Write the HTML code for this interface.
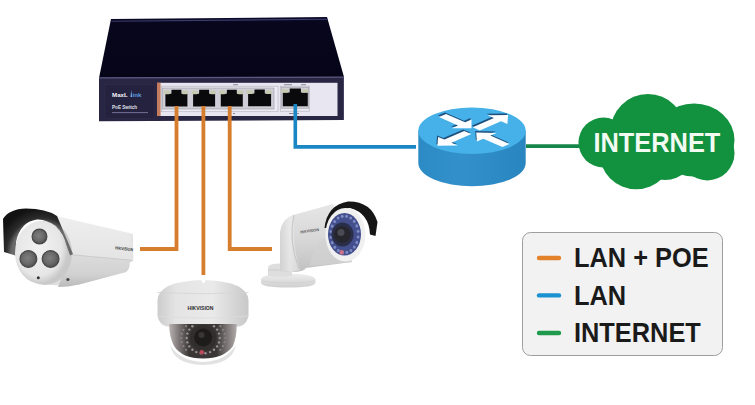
<!DOCTYPE html>
<html><head><meta charset="utf-8">
<style>
html,body{margin:0;padding:0;background:#fff;}
body{width:755px;height:405px;overflow:hidden;position:relative;font-family:"Liberation Sans",sans-serif;}
svg{position:absolute;left:0;top:0;}
</style></head>
<body>
<svg width="755" height="405" viewBox="0 0 755 405">
<defs>
  <linearGradient id="swTop" x1="0" y1="0" x2="0" y2="1">
    <stop offset="0" stop-color="#0c0b2a"/>
    <stop offset="0.1" stop-color="#07061c"/>
    <stop offset="1" stop-color="#060518"/>
  </linearGradient>
  <linearGradient id="swFront" x1="0" y1="0" x2="0" y2="1">
    <stop offset="0" stop-color="#23223f"/>
    <stop offset="1" stop-color="#1a1933"/>
  </linearGradient>
  <linearGradient id="rtSide" x1="0" y1="0" x2="1" y2="0">
    <stop offset="0" stop-color="#2c8ac4"/>
    <stop offset="0.4" stop-color="#3390ca"/>
    <stop offset="1" stop-color="#2985c0"/>
  </linearGradient>
</defs>

<!-- ===== SWITCH ===== -->
<polygon points="111,19 327,17 344,77 99,78" fill="url(#swTop)"/>
<line x1="111.5" y1="21.2" x2="327.5" y2="19.2" stroke="#3e3c6c" stroke-width="1.1"/>
<polygon points="99,77.5 344,77 344,120 99,121.2" fill="#282642"/>
<line x1="99" y1="77.8" x2="344" y2="77.2" stroke="#5c5a82" stroke-width="1.2"/>
<line x1="343.5" y1="78" x2="343.5" y2="120" stroke="#4a4868" stroke-width="0.8"/>
<rect x="105" y="84.5" width="49" height="34" fill="#24223e" stroke="#302e4c" stroke-width="0.6"/>
<!-- white panel -->
<rect x="157" y="82.8" width="180.5" height="33.2" fill="#e8e6f1"/>
<rect x="157" y="82.8" width="3.6" height="33.2" fill="#c47c5c"/>
<!-- port group frame -->
<rect x="161.5" y="86.2" width="116.5" height="25.5" fill="#ecebf3" stroke="#b8b7c2" stroke-width="0.7"/>
<rect x="162.5" y="88" width="111.5" height="21" fill="#cfced6" stroke="#9c9ba6" stroke-width="0.6"/>
<rect x="280.3" y="86.2" width="29.2" height="25" fill="#ecebf3" stroke="#b8b7c2" stroke-width="0.7"/>
<rect x="281.2" y="87.2" width="27.5" height="21" fill="#cfced6" stroke="#9c9ba6" stroke-width="0.6"/>
<!-- ports -->
<path d="M171.5,89.8 h9.9 v4 h6.0 v12.8 h-22.0 v-12.8 h6.0 z" fill="#0a0a0c"/>
<rect x="163.6" y="90.6" width="6.6" height="3.6" rx="1.5" fill="#c5cab0"/>
<rect x="182.0" y="90.6" width="6.2" height="3.6" rx="1.5" fill="#c5cab0"/>
<path d="M199.2,89.8 h9.9 v4 h6.0 v12.8 h-22.0 v-12.8 h6.0 z" fill="#0a0a0c"/>
<rect x="191.4" y="90.6" width="6.6" height="3.6" rx="1.5" fill="#c5cab0"/>
<rect x="209.8" y="90.6" width="6.2" height="3.6" rx="1.5" fill="#c5cab0"/>
<path d="M226.9,89.8 h9.9 v4 h6.0 v12.8 h-22.0 v-12.8 h6.0 z" fill="#0a0a0c"/>
<rect x="219.0" y="90.6" width="6.6" height="3.6" rx="1.5" fill="#c5cab0"/>
<rect x="237.4" y="90.6" width="6.2" height="3.6" rx="1.5" fill="#c5cab0"/>
<path d="M254.5,89.5 h10.3 v4 h6.3 v12.8 h-23.0 v-12.8 h6.3 z" fill="#0a0a0c"/>
<rect x="246.4" y="90.3" width="6.9" height="3.6" rx="1.5" fill="#c5cab0"/>
<rect x="265.5" y="90.3" width="6.4" height="3.6" rx="1.5" fill="#c5cab0"/>
<path d="M289.7,88.4 h11.2 v4 h6.9 v13.8 h-25.0 v-13.8 h6.9 z" fill="#0a0a0c"/>
<rect x="281.0" y="89.2" width="7.5" height="3.6" rx="1.5" fill="#c5cab0"/>
<rect x="301.5" y="89.2" width="7.0" height="3.6" rx="1.5" fill="#c5cab0"/>

<!-- labels -->
<g fill="#8a8898">
<rect x="233" y="84.2" width="5" height="1" />
<rect x="284" y="84.2" width="8" height="1"/>
<rect x="301" y="84.2" width="5" height="1"/>
<rect x="289" y="113" width="10" height="1"/>
<rect x="233" y="113" width="2" height="1"/>
</g>
<!-- logo -->
<text x="0" y="97.2" font-family="Liberation Sans" font-size="6.2" font-weight="bold" fill="#f4f4fa" transform="translate(112,0) scale(1.0,1)">MaxL</text>
<text x="0" y="97.2" font-family="Liberation Sans" font-size="6.2" font-weight="bold" fill="#5a9ee0" transform="translate(132.5,0) scale(1.0,1)">ink</text>
<path d="M130.5,97 L131.3,90 L132.1,97 Z" fill="#7ab8f0"/>
<text x="0" y="108.6" font-family="Liberation Sans" font-size="5.4" font-weight="bold" fill="#e0e0ec" transform="translate(112,0) scale(0.86,1)">PoE Switch</text>
<rect x="112" y="112.2" width="36" height="0.9" fill="#7a78a0"/>

<!-- ===== CABLES ===== -->
<g fill="none" stroke-width="3.8" stroke-linejoin="miter">
  <polyline points="176.5,106 176.5,249 140,249" stroke="#d67d2e"/>
  <polyline points="203.4,106 203.4,275" stroke="#d67d2e"/>
  <polyline points="229.7,106 229.7,249 272,249" stroke="#d67d2e"/>
</g>
<polyline points="295.3,104 295.3,146.9 416,146.9" fill="none" stroke="#1a86c4" stroke-width="3.6"/>
<line x1="526" y1="146.1" x2="581" y2="146.1" stroke="#17864a" stroke-width="3.8"/>


<!-- ===== CAMERA 1 (bullet left) ===== -->
<defs>
  <linearGradient id="c1body" x1="0" y1="0" x2="0" y2="1">
    <stop offset="0" stop-color="#f2f2f2"/>
    <stop offset="0.55" stop-color="#e4e4e4"/>
    <stop offset="1" stop-color="#c9c9c9"/>
  </linearGradient>
  <radialGradient id="c1face" cx="0.45" cy="0.42" r="0.6">
    <stop offset="0" stop-color="#f2f2f2"/>
    <stop offset="0.75" stop-color="#e6e6e6"/>
    <stop offset="1" stop-color="#c4c4c4"/>
  </radialGradient>
  <radialGradient id="lens" cx="0.5" cy="0.5" r="0.5">
    <stop offset="0" stop-color="#7a7a7a"/>
    <stop offset="0.7" stop-color="#5a5a5a"/>
    <stop offset="1" stop-color="#3c3c3c"/>
  </radialGradient>
  <linearGradient id="c3body" x1="0" y1="0" x2="0" y2="1">
    <stop offset="0" stop-color="#e6e6e6"/>
    <stop offset="0.5" stop-color="#d8d8d8"/>
    <stop offset="1" stop-color="#c2c2c2"/>
  </linearGradient>
  <radialGradient id="domeDark" cx="0.5" cy="0.3" r="0.7">
    <stop offset="0" stop-color="#3a3a3a"/>
    <stop offset="0.6" stop-color="#4a4444"/>
    <stop offset="1" stop-color="#8a8686"/>
  </radialGradient>
</defs>
<!-- body -->
<defs>
  <linearGradient id="c1up" x1="0" y1="0" x2="0" y2="1">
    <stop offset="0" stop-color="#eeeeee"/>
    <stop offset="1" stop-color="#dedede"/>
  </linearGradient>
  <linearGradient id="c1low" x1="0" y1="0" x2="0" y2="1">
    <stop offset="0" stop-color="#dcdcdc"/>
    <stop offset="0.6" stop-color="#d2d2d2"/>
    <stop offset="1" stop-color="#bababa"/>
  </linearGradient>
  <radialGradient id="hoodG" gradientUnits="userSpaceOnUse" cx="42" cy="254" r="46">
    <stop offset="0" stop-color="#777"/>
    <stop offset="0.66" stop-color="#6a6a6a"/>
    <stop offset="0.78" stop-color="#2c2c2c"/>
    <stop offset="1" stop-color="#121212"/>
  </radialGradient>
  <radialGradient id="lens1" cx="0.45" cy="0.45" r="0.55">
    <stop offset="0" stop-color="#7e7e7e"/>
    <stop offset="0.6" stop-color="#6a6a6a"/>
    <stop offset="1" stop-color="#505050"/>
  </radialGradient>
</defs>
<path d="M56,216 L130.5,233.2 L133,234.8 L133.2,260.5 L129.5,262.5 Q130,269 126,272 L79,284.5 Q66,287 44,284 Z" fill="url(#c1up)"/>
<path d="M71.5,254.5 L133.2,260.5 L129.5,262.5 Q130,269 126,272 L79,284.5 Q68,287 58,287 Z" fill="url(#c1low)"/>
<line x1="72" y1="254.8" x2="133" y2="260.4" stroke="#c8c8c8" stroke-width="0.9"/>
<path d="M130.5,233.2 L133,234.8 L133.2,260.5 L130.8,260.2 Z" fill="#e4e4e4"/>
<!-- face rim (disc thickness) -->
<ellipse cx="45" cy="253" rx="27" ry="32" fill="#c9c9c9"/>
<!-- hood -->
<path d="M3,219 Q9,209 26,208.5 Q46,208.5 57,216 L73,254 L70,255.5 Q64,236 56,226 Q46,219 37,219.5 Q20,222 16,242 L17,256 L4,252 Z" fill="url(#hoodG)"/>
<!-- face -->
<ellipse cx="41" cy="252.5" rx="26" ry="31.5" fill="url(#c1face)"/>
<circle cx="39.5" cy="236.5" r="7.4" fill="url(#lens1)" stroke="#484848" stroke-width="1.2"/>
<circle cx="28.4" cy="259" r="8.4" fill="url(#lens1)" stroke="#484848" stroke-width="1.2"/>
<circle cx="50.6" cy="259" r="8.4" fill="url(#lens1)" stroke="#484848" stroke-width="1.2"/>
<circle cx="38.3" cy="277.8" r="1.5" fill="#333"/>
<circle cx="67.9" cy="279.5" r="1.6" fill="#444"/>
<text x="0" y="0" font-family="Liberation Sans" font-size="4.4" font-weight="bold" fill="#333" transform="translate(115,249.2) rotate(7) scale(0.8,1)">HIKVISION</text>

<!-- ===== CAMERA 2 (dome) ===== -->
<defs>
  <linearGradient id="domeHouse" x1="0" y1="0" x2="1" y2="0">
    <stop offset="0" stop-color="#cccccc"/>
    <stop offset="0.2" stop-color="#e4e4e4"/>
    <stop offset="0.6" stop-color="#eaeaea"/>
    <stop offset="1" stop-color="#c8c8c8"/>
  </linearGradient>
  <linearGradient id="domeSide" x1="0" y1="0" x2="1" y2="0">
    <stop offset="0" stop-color="#b8b2b2"/>
    <stop offset="0.18" stop-color="#6e6868"/>
    <stop offset="0.3" stop-color="#3a3636"/>
    <stop offset="0.7" stop-color="#3a3636"/>
    <stop offset="0.82" stop-color="#6e6868"/>
    <stop offset="1" stop-color="#b0aaaa"/>
  </linearGradient>
</defs>
<path d="M157.5,300 Q159,281 203,280 Q247,281 248.5,300 L248.5,316 Q246,327 236,327 L170,327 Q159,326 157.5,316 Z" fill="url(#domeHouse)"/>
<path d="M157.5,292.5 Q203,295 248.5,292.5" fill="none" stroke="#d4d4d4" stroke-width="0.8"/>
<path d="M158,316 Q203,320 248.5,316" fill="none" stroke="#dcdcdc" stroke-width="0.8"/>
<ellipse cx="203.5" cy="279" rx="2" ry="4" fill="#ffffff"/>
<path d="M170,345 Q180,361 203,362 Q226,361 236,345 Q232,364.5 203,365 Q174,364.5 170,345 Z" fill="#e2e2e2"/>
<path d="M169.2,324 L236.6,324 Q237,336 233,346 Q224,358.5 203,358.5 Q182,358.5 174,346 Q169,336 169.2,324 Z" fill="url(#domeSide)"/>
<circle cx="203.2" cy="338" r="13" fill="#332e2e"/>
<circle cx="203.2" cy="337.5" r="9" fill="#1e1b1b"/>
<circle cx="201.5" cy="335" r="3" fill="#3a3636"/>
<circle cx="219.7" cy="338.0" r="1.2" fill="#9a9294"/><circle cx="219.0" cy="342.4" r="1.2" fill="#9a9294"/><circle cx="217.1" cy="346.4" r="1.2" fill="#9a9294"/><circle cx="214.0" cy="349.7" r="1.2" fill="#9a9294"/><circle cx="210.1" cy="352.1" r="1.2" fill="#9a9294"/><circle cx="205.5" cy="353.3" r="1.2" fill="#9a9294"/><circle cx="200.9" cy="353.3" r="1.2" fill="#9a9294"/><circle cx="196.3" cy="352.1" r="1.2" fill="#9a9294"/><circle cx="192.4" cy="349.7" r="1.2" fill="#9a9294"/><circle cx="189.3" cy="346.4" r="1.2" fill="#9a9294"/><circle cx="187.4" cy="342.4" r="1.2" fill="#9a9294"/><circle cx="186.7" cy="338.0" r="1.2" fill="#9a9294"/><circle cx="187.4" cy="333.6" r="1.2" fill="#9a9294"/><circle cx="189.3" cy="329.6" r="1.2" fill="#9a9294"/><circle cx="192.4" cy="326.3" r="1.2" fill="#9a9294"/><circle cx="214.0" cy="326.3" r="1.2" fill="#9a9294"/><circle cx="217.1" cy="329.6" r="1.2" fill="#9a9294"/><circle cx="219.0" cy="333.6" r="1.2" fill="#9a9294"/><circle cx="225.2" cy="338.0" r="1.1" fill="#8a8284"/><circle cx="224.6" cy="342.2" r="1.1" fill="#8a8284"/><circle cx="223.0" cy="346.2" r="1.1" fill="#8a8284"/><circle cx="220.4" cy="349.8" r="1.1" fill="#8a8284"/><circle cx="186.0" cy="349.8" r="1.1" fill="#8a8284"/><circle cx="183.4" cy="346.2" r="1.1" fill="#8a8284"/><circle cx="181.8" cy="342.2" r="1.1" fill="#8a8284"/><circle cx="181.2" cy="338.0" r="1.1" fill="#8a8284"/><circle cx="181.8" cy="333.8" r="1.1" fill="#8a8284"/><circle cx="183.4" cy="329.8" r="1.1" fill="#8a8284"/><circle cx="186.0" cy="326.2" r="1.1" fill="#8a8284"/><circle cx="220.4" cy="326.2" r="1.1" fill="#8a8284"/><circle cx="223.0" cy="329.8" r="1.1" fill="#8a8284"/><circle cx="224.6" cy="333.8" r="1.1" fill="#8a8284"/>
<circle cx="201.8" cy="352.3" r="2.3" fill="#b84a5c"/>
<text x="0" y="0" font-family="Liberation Sans" font-size="5.2" font-weight="bold" fill="#2a2a2a" transform="translate(187.5,309.8) scale(0.98,1)">HIKVISION</text>

<!-- ===== CAMERA 3 (bullet right) ===== -->
<defs>
  <linearGradient id="c3arm" x1="0" y1="0" x2="1" y2="0">
    <stop offset="0" stop-color="#d4d4d4"/>
    <stop offset="0.5" stop-color="#ececec"/>
    <stop offset="1" stop-color="#dadada"/>
  </linearGradient>
  <linearGradient id="c3plate" x1="0" y1="0" x2="0" y2="1">
    <stop offset="0" stop-color="#eeeeee"/>
    <stop offset="1" stop-color="#cfcfcf"/>
  </linearGradient>
  <radialGradient id="c3ring" cx="0.5" cy="0.5" r="0.5">
    <stop offset="0" stop-color="#4a5aa0"/>
    <stop offset="0.8" stop-color="#4656a0"/>
    <stop offset="1" stop-color="#5a68b0"/>
  </radialGradient>
</defs>
<!-- base plate -->
<path d="M261,279.5 Q262,274 288,273.5 Q314,274 315.5,279.5 L315.5,283 Q314,287.5 288,287.5 Q262,287.5 261,283 Z" fill="url(#c3plate)"/>
<path d="M261.5,281 Q288,285 315,281" fill="none" stroke="#d0d0d0" stroke-width="0.8"/>
<path d="M268,267 Q269,263.5 280,263.5 Q291,263.5 292,267 L292,276 Q280,278 268,276 Z" fill="#dedede"/>
<path d="M268,270 L292,270" stroke="#c8c8c8" stroke-width="0.8"/>
<!-- arm & body -->
<path d="M280,236 Q280,219 295,214.5 L333,204 L352,262 L306,268 Q304,272 292,272 L280,271 Z" fill="url(#c3body)"/>
<path d="M280,236 Q280,219 295,214.5 Q291,240 300,270 L292,272 L280,271 Z" fill="url(#c3arm)" opacity="0.8"/>
<path d="M324,238 Q311,249 310,266 L352,262 Q338,250 324,238 Z" fill="#d2d2d2" opacity="0.7"/>
<path d="M294,215 Q288,240 299,269" fill="none" stroke="#c4c4c4" stroke-width="1"/>
<!-- hood -->
<path d="M324.5,228 Q327,205 348,201.5 Q371,201 377.5,222 L375.5,236 L370,234.5 Q369,213 350,208 Q332,208.5 329,228 Z" fill="#161616"/>
<!-- face -->
<ellipse cx="345.4" cy="234.8" rx="20" ry="26.8" fill="#f0f0f0"/>
<ellipse cx="344.5" cy="234.3" rx="16.5" ry="21.3" fill="#44508e"/>
<ellipse cx="358.1" cy="237.0" rx="1.4" ry="1.6" fill="#8a96cc" opacity="0.85"/><ellipse cx="356.8" cy="242.4" rx="1.4" ry="1.6" fill="#8a96cc" opacity="0.85"/><ellipse cx="354.3" cy="247.1" rx="1.4" ry="1.6" fill="#8a96cc" opacity="0.85"/><ellipse cx="350.9" cy="250.5" rx="1.4" ry="1.6" fill="#8a96cc" opacity="0.85"/><ellipse cx="346.8" cy="252.3" rx="1.4" ry="1.6" fill="#8a96cc" opacity="0.85"/><ellipse cx="342.4" cy="252.3" rx="1.4" ry="1.6" fill="#8a96cc" opacity="0.85"/><ellipse cx="338.3" cy="250.6" rx="1.4" ry="1.6" fill="#8a96cc" opacity="0.85"/><ellipse cx="334.8" cy="247.3" rx="1.4" ry="1.6" fill="#8a96cc" opacity="0.85"/><ellipse cx="332.2" cy="242.7" rx="1.4" ry="1.6" fill="#8a96cc" opacity="0.85"/><ellipse cx="330.9" cy="237.3" rx="1.4" ry="1.6" fill="#8a96cc" opacity="0.85"/><ellipse cx="330.9" cy="231.6" rx="1.4" ry="1.6" fill="#8a96cc" opacity="0.85"/><ellipse cx="332.2" cy="226.2" rx="1.4" ry="1.6" fill="#8a96cc" opacity="0.85"/><ellipse cx="334.7" cy="221.5" rx="1.4" ry="1.6" fill="#8a96cc" opacity="0.85"/><ellipse cx="338.1" cy="218.1" rx="1.4" ry="1.6" fill="#8a96cc" opacity="0.85"/><ellipse cx="342.2" cy="216.3" rx="1.4" ry="1.6" fill="#8a96cc" opacity="0.85"/><ellipse cx="346.6" cy="216.3" rx="1.4" ry="1.6" fill="#8a96cc" opacity="0.85"/><ellipse cx="350.7" cy="218.0" rx="1.4" ry="1.6" fill="#8a96cc" opacity="0.85"/><ellipse cx="354.2" cy="221.3" rx="1.4" ry="1.6" fill="#8a96cc" opacity="0.85"/><ellipse cx="356.8" cy="225.9" rx="1.4" ry="1.6" fill="#8a96cc" opacity="0.85"/><ellipse cx="358.1" cy="231.3" rx="1.4" ry="1.6" fill="#8a96cc" opacity="0.85"/>
<ellipse cx="342.5" cy="234.5" rx="11" ry="12" fill="#2a2e48"/>
<circle cx="342.3" cy="234.5" r="8.3" fill="#26262c"/>
<circle cx="341" cy="232.5" r="3.5" fill="#4a4a54"/>
<circle cx="341.7" cy="252.4" r="2.3" fill="#c87088"/>
<text x="0" y="0" font-family="Liberation Sans" font-size="4" font-weight="bold" fill="#555" transform="translate(300.5,233.5) rotate(-8) scale(0.92,1)">HIKVISION</text>

<!-- ===== ROUTER ===== -->
<path d="M418.3,130.7 L525.7,130.7 L525.7,163 A53.7,23.2 0 0 1 418.3,163 Z" fill="url(#rtSide)"/>
<ellipse cx="472" cy="130.7" rx="53.7" ry="23.3" fill="#46b1e8"/>
<polygon points="446.0,114.0 465.1,122.3 471.5,119.5 471.5,128.2 451.7,128.2 458.0,125.4 438.9,117.1" fill="#1d4f7c" transform="translate(-1,-1.5)"/>
<polygon points="472.7,127.3 493.9,118.1 487.6,115.3 508.1,115.0 507.4,123.9 501.0,121.2 479.8,130.4" fill="#1d4f7c" transform="translate(-1,-1.5)"/>
<polygon points="471.3,134.1 451.5,142.7 457.9,145.5 437.4,145.8 438.1,136.9 444.4,139.6 464.2,131.0" fill="#1d4f7c" transform="translate(-1,-1.5)"/>
<polygon points="509.5,143.9 490.4,135.6 496.7,132.9 476.2,132.5 476.9,141.5 483.3,138.7 502.4,147.0" fill="#1d4f7c" transform="translate(-1,-1.5)"/>
<polygon points="446.0,114.0 465.1,122.3 471.5,119.5 471.5,128.2 451.7,128.2 458.0,125.4 438.9,117.1" fill="#fbfdff"/>
<polygon points="472.7,127.3 493.9,118.1 487.6,115.3 508.1,115.0 507.4,123.9 501.0,121.2 479.8,130.4" fill="#fbfdff"/>
<polygon points="471.3,134.1 451.5,142.7 457.9,145.5 437.4,145.8 438.1,136.9 444.4,139.6 464.2,131.0" fill="#fbfdff"/>
<polygon points="509.5,143.9 490.4,135.6 496.7,132.9 476.2,132.5 476.9,141.5 483.3,138.7 502.4,147.0" fill="#fbfdff"/>

<!-- ===== CLOUD ===== -->
<g fill="#12913f">
  <circle cx="603.5" cy="142.5" r="25"/>
  <circle cx="647.9" cy="131.3" r="37.3"/>
  <ellipse cx="694" cy="140" rx="40.5" ry="36.5"/>
  <circle cx="707.3" cy="153.2" r="27.2"/>
  <circle cx="636.2" cy="152.4" r="36.8"/>
  <circle cx="665" cy="150" r="30"/>
</g>
<text x="0" y="152" font-family="Liberation Sans" font-size="27" font-weight="bold" fill="#f2fbf2" transform="translate(593.5,0) scale(0.94,1)">INTERNET</text>

<!-- ===== LEGEND ===== -->
<rect x="522.5" y="232.5" width="200" height="123" rx="8" fill="#f2f2f2" stroke="#9e9e9e" stroke-width="1"/>
<g stroke-width="4.4" stroke-linecap="round">
  <line x1="539" y1="258" x2="559" y2="258" stroke="#e2832c"/>
  <line x1="539" y1="295.4" x2="559" y2="295.4" stroke="#1b91d1"/>
  <line x1="539" y1="333" x2="559" y2="333" stroke="#1f9a4c"/>
</g>
<g font-family="Liberation Sans" font-size="27" font-weight="bold" fill="#1a1a1a" transform="translate(574,0) scale(0.94,1)">
  <text x="0" y="267">LAN + POE</text>
  <text x="0" y="305">LAN</text>
  <text x="0" y="341.6">INTERNET</text>
</g>

</svg>
</body></html>
